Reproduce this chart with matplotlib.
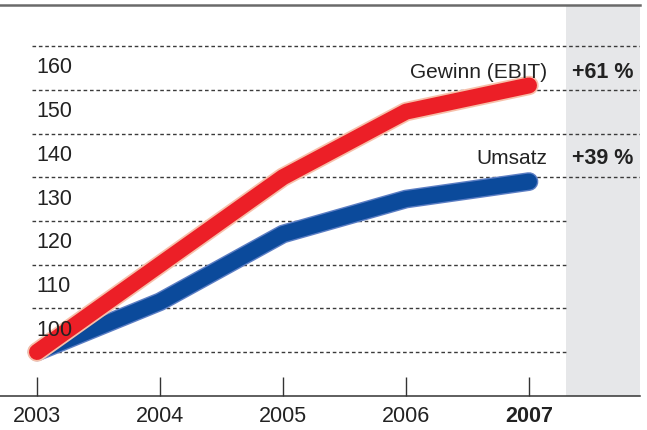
import matplotlib
matplotlib.use("Agg")
import matplotlib.pyplot as plt
import matplotlib.patheffects as pe

plt.rcParams['font.family'] = ['Liberation Sans', 'DejaVu Sans']

years = [2003, 2004, 2005, 2006, 2007]
year_labels = ["2003", "2004", "2005", "2006", "2007"]
gewinn = [100, 120, 140, 155, 161]
umsatz = [100, 111.5, 127, 135, 139]
grid_values = [100, 110, 120, 130, 140, 150, 160, 170]
axis_labels = [100, 110, 120, 130, 140, 150, 160]
series_names = ["Gewinn (EBIT)", "Umsatz"]
growth_labels = ["+61 %", "+39 %"]

W, H = 647, 430
fig = plt.figure(figsize=(W / 100, H / 100), dpi=100)
ax = fig.add_axes([0, (H - 396) / H, 640 / W, 391 / H])

px_per_year = 123.0
px_per_unit = 4.37
x0 = 2003 - 37 / px_per_year
x1 = 2003 + (640 - 37) / px_per_year
y0 = 100 - (396 - 352) / px_per_unit
y1 = 100 + (352 - 5) / px_per_unit
ax.set_xlim(x0, x1)
ax.set_ylim(y0, y1)

band_start = 2003 + (566 - 37) / px_per_year
ax.axvspan(band_start, x1, color="#e6e7e9", zorder=0, lw=0)

grid_start = 2003 - 5 / px_per_year
for v in grid_values:
    xe = x1 if v >= 140 else band_start
    ax.hlines(v, grid_start, xe, colors="#3a3a3a", linewidth=1.0,
              linestyles=(0, (2.6, 2.0)), zorder=1)

for v in axis_labels:
    ax.text(2003 - 1 / px_per_year, v + 5.0, str(v), fontsize=15.5,
            color="#222222", ha="left", va="center", zorder=6)

ax.plot(years, umsatz, color="#0b4a9b", linewidth=11.5,
        solid_capstyle="round", solid_joinstyle="round", zorder=3,
        path_effects=[pe.Stroke(linewidth=13.5, foreground="#5c7ec4"), pe.Normal()])
ax.plot(years, gewinn, color="#ec1f27", linewidth=11.5,
        solid_capstyle="round", solid_joinstyle="round", zorder=4,
        path_effects=[pe.Stroke(linewidth=14.0, foreground="#f7c0aa"), pe.Normal()])

label_x = 2003 + (547 - 37) / px_per_year
band_mid = (band_start + x1) / 2
label_y = [100 + (352 - 72) / px_per_unit, 100 + (352 - 158) / px_per_unit]
for name, g, yy in zip(series_names, growth_labels, label_y):
    ax.text(label_x, yy, name, fontsize=15, color="#222222",
            ha="right", va="center", zorder=5)
    ax.text(band_mid, yy, g, fontsize=15.5, color="#222222",
            fontweight="bold", ha="center", va="center", zorder=5)

for s in ["left", "right"]:
    ax.spines[s].set_visible(False)
ax.spines["top"].set_color("#6a6a6a")
ax.spines["top"].set_linewidth(1.8)
ax.spines["bottom"].set_color("#333333")
ax.spines["bottom"].set_linewidth(1.1)

ax.set_yticks([])
ax.set_xticks(years)
ax.set_xticklabels(year_labels, fontsize=15.5, color="#222222")
ax.get_xticklabels()[-1].set_fontweight("bold")
ax.tick_params(axis="x", direction="in", length=14, width=1.0,
               color="#333333", pad=7)

fig.savefig("out.png", dpi=100, facecolor="white")
